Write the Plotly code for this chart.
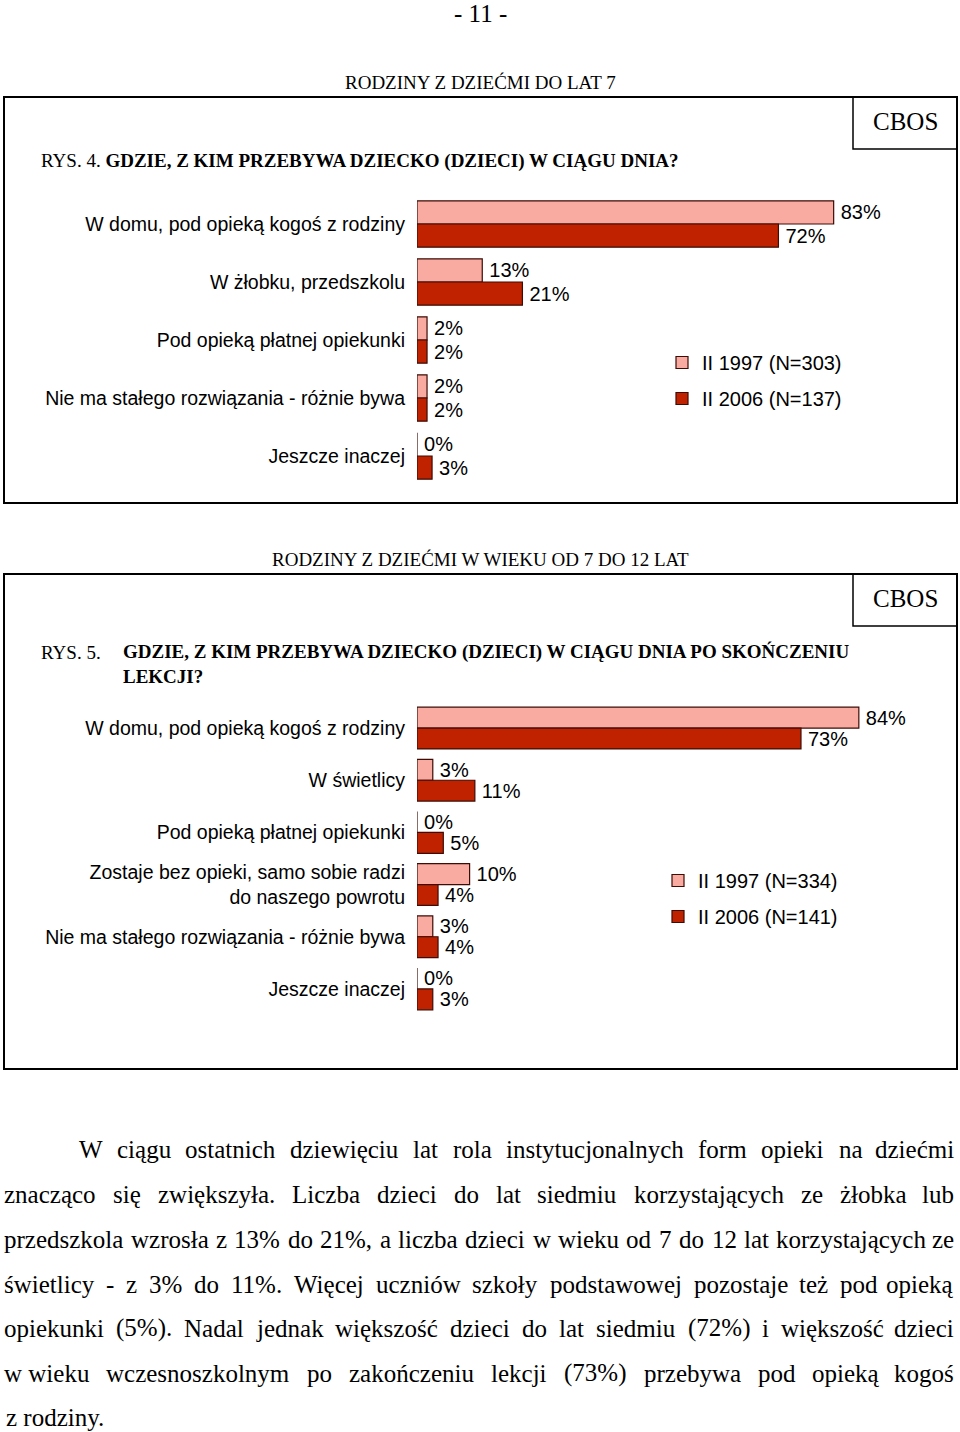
import plotly.graph_objects as go

# ---------------- data ----------------
cats1 = ["W domu, pod opieką kogoś z rodziny", "W żłobku, przedszkolu",
         "Pod opieką płatnej opiekunki", "Nie ma stałego rozwiązania - różnie bywa",
         "Jeszcze inaczej"]
v1997_a = [83, 13, 2, 2, 0]
v2006_a = [72, 21, 2, 2, 3]
name1997_a = "II 1997 (N=303)"
name2006_a = "II 2006 (N=137)"

cats2 = ["W domu, pod opieką kogoś z rodziny", "W świetlicy",
         "Pod opieką płatnej opiekunki",
         "Zostaje bez opieki, samo sobie radzi<br>do naszego powrotu",
         "Nie ma stałego rozwiązania - różnie bywa", "Jeszcze inaczej"]
v1997_b = [84, 3, 0, 10, 3, 0]
v2006_b = [73, 11, 5, 4, 4, 3]
name1997_b = "II 1997 (N=334)"
name2006_b = "II 2006 (N=141)"

paragraph_lines = [
    "W ciągu ostatnich dziewięciu lat rola instytucjonalnych form opieki na dziećmi",
    "znacząco się zwiększyła. Liczba dzieci do lat siedmiu korzystających ze żłobka lub",
    "przedszkola wzrosła z 13% do 21%, a liczba dzieci w wieku od 7 do 12 lat korzystających ze",
    "świetlicy - z 3% do 11%. Więcej uczniów szkoły podstawowej pozostaje też pod opieką",
    "opiekunki (5%). Nadal jednak większość dzieci do lat siedmiu (72%) i większość dzieci",
    "w\u00a0wieku wczesnoszkolnym po zakończeniu lekcji (73%) przebywa pod opieką kogoś",
    "z\u00a0rodziny.",
]

# ---------------- styling ----------------
W, H = 960, 1432
LIGHT = "#F9AAA1"
DARK = "#C02200"
EDGE = "#3d0c05"
SANS = "Liberation Sans, Arial, sans-serif"
SERIF = "Liberation Serif, Times New Roman, serif"


def px(x):
    return x / W


def py(y):
    return 1 - y / H


fig = go.Figure()


def add_bars(cats, v97, v06, n97, n06, xa, ya, legend):
    for vals, name, col in ((v97, n97, LIGHT), (v06, n06, DARK)):
        fig.add_trace(go.Bar(
            y=cats, x=vals, orientation="h", name=name,
            marker=dict(color=col, line=dict(color=EDGE, width=1.2)),
            text=[f"\u2009{v}%" for v in vals], textposition="outside",
            textfont=dict(family=SANS, size=20, color="#000"),
            constraintext="none", cliponaxis=False,
            xaxis=xa, yaxis=ya, legend=legend, legendgroup=name,
            hoverinfo="skip",
        ))


add_bars(cats1, v1997_a, v2006_a, name1997_a, name2006_a, "x", "y", "legend")
add_bars(cats2, v1997_b, v2006_b, name1997_b, name2006_b, "x2", "y2", "legend2")

ax_common = dict(showgrid=False, zeroline=False, showline=False,
                 showticklabels=False, ticks="", fixedrange=True)
ya_common = dict(showgrid=False, zeroline=False, showline=False, ticks="",
                 tickfont=dict(family=SANS, size=19.5, color="#000"),
                 ticklabelstandoff=11, fixedrange=True)

legend_common = dict(font=dict(family=SANS, size=20, color="#000"),
                     bgcolor="rgba(0,0,0,0)", tracegroupgap=7,
                     itemclick=False, itemdoubleclick=False,
                     xanchor="left", yanchor="top")

fig.update_layout(
    width=W, height=H, margin=dict(l=0, r=0, t=0, b=0),
    paper_bgcolor="white", plot_bgcolor="rgba(0,0,0,0)",
    barmode="group", bargap=0.2, bargroupgap=0,
    showlegend=True,
    xaxis=dict(domain=[px(417), px(900)], range=[0, (900 - 417) / 5.02],
               anchor="y", **ax_common),
    yaxis=dict(domain=[py(485), py(195)], range=[4.5, -0.5], anchor="x",
               type="category", **ya_common),
    xaxis2=dict(domain=[px(417), px(900)], range=[0, (900 - 417) / 5.26],
                anchor="y2", **ax_common),
    yaxis2=dict(domain=[py(1015), py(702)], range=[5.5, -0.5], anchor="x2",
                type="category", **ya_common),
    legend=dict(x=px(662), y=py(343), **legend_common),
    legend2=dict(x=px(658), y=py(861), **legend_common),
)

# ---------------- frames ----------------
shapes = []
for (y0, y1) in ((97, 503), (574, 1069)):
    shapes.append(dict(type="rect", xref="paper", yref="paper",
                       x0=px(4), x1=px(957), y0=py(y1), y1=py(y0),
                       line=dict(color="#000", width=2)))
    shapes.append(dict(type="rect", xref="paper", yref="paper",
                       x0=px(853), x1=px(957), y0=py(y0 + 52), y1=py(y0),
                       line=dict(color="#000", width=1.5)))
fig.update_layout(shapes=shapes)

ann = []


def text(x, y, s, size, family=SERIF, xanchor="left"):
    ann.append(dict(x=px(x), y=py(y), xref="paper", yref="paper", text=s,
                    showarrow=False, xanchor=xanchor, yanchor="middle",
                    font=dict(family=family, size=size, color="#000")))


text(480, 14, "- 11 -", 25, xanchor="center")
text(480, 83, "RODZINY Z DZIEĆMI DO LAT 7", 19, xanchor="center")
text(905, 122, "CBOS", 25, xanchor="center")
text(39, 161, "RYS. 4. <b>GDZIE, Z KIM PRZEBYWA DZIECKO (DZIECI) W CIĄGU DNIA?</b>", 19)

text(480, 560, "RODZINY Z DZIEĆMI W WIEKU OD 7 DO 12 LAT", 19, xanchor="center")
text(905, 599, "CBOS", 25, xanchor="center")
text(39, 652, "RYS. 5.", 19)
text(121, 652, "<b>GDZIE, Z KIM PRZEBYWA DZIECKO (DZIECI) W CIĄGU DNIA PO SKOŃCZENIU</b>", 19)
text(121, 676, "<b>LEKCJI?</b>", 19)

# ---------------- justified paragraph ----------------
TW = {" ": 250, "\u00a0": 250, "(": 333, ")": 333, "%": 833, ",": 250, "-": 333,
      ".": 250, "?": 444}
for d in "0123456789":
    TW[d] = 500
TW.update(dict(A=722, B=667, C=667, D=722, E=611, F=556, G=722, H=722, I=333,
               J=389, K=722, L=611, M=889, N=722, O=722, P=556, Q=722, R=667,
               S=556, T=611, U=722, V=722, W=944, X=722, Y=722, Z=611))
TW.update(dict(a=444, b=500, c=444, d=500, e=444, f=333, g=500, h=500, i=278,
               j=278, k=500, l=278, m=778, n=500, o=500, p=500, q=500, r=333,
               s=389, t=278, u=500, v=500, w=722, x=500, y=500, z=444))
PL = {"ą": "a", "ę": "e", "ć": "c", "ł": "l", "ń": "n", "ó": "o", "ś": "s",
      "ź": "z", "ż": "z", "Ś": "S", "Ż": "Z", "Ł": "L"}

FS = 25


def wwidth(w):
    return sum(TW.get(PL.get(c, c), 500) for c in w) / 1000 * FS


line_y = [1149, 1194, 1239, 1284, 1328, 1373, 1417]
LEFT, RIGHT = 4, 956
for i, (line, yy) in enumerate(zip(paragraph_lines, line_y)):
    x0 = 79 if i == 0 else LEFT
    words = line.split(" ")
    if i == len(paragraph_lines) - 1:
        text(x0, yy, line.replace("\u00a0", " "), FS)
        continue
    widths = [wwidth(w) for w in words]
    gap = (RIGHT - x0 - sum(widths)) / (len(words) - 1)
    x = x0
    for j, (w, wd) in enumerate(zip(words, widths)):
        if j == len(words) - 1:
            text(RIGHT, yy, w.replace("\u00a0", " "), FS, xanchor="right")
        else:
            text(x + wd / 2, yy, w.replace("\u00a0", " "), FS, xanchor="center")
        x += wd + gap

fig.update_layout(annotations=ann)

fig.write_html("out.html", config={"displayModeBar": False, "staticPlot": True},
               post_script="document.body.style.margin='0';")
